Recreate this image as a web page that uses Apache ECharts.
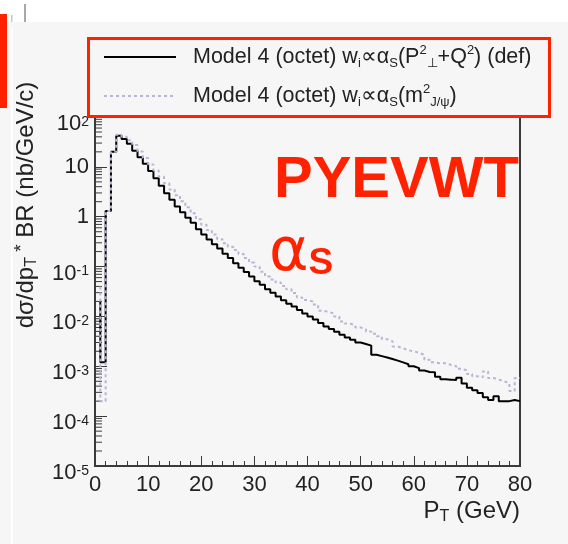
<!DOCTYPE html>
<html>
<head>
<meta charset="utf-8">
<script src="https://cdn.jsdelivr.net/npm/echarts@6/dist/echarts.min.js"></script>
<style>
html,body{margin:0;padding:0;background:#f6f6f6;}
#chart{width:568px;height:544px;}
</style>
</head>
<body>
<div id="chart"></div>
<script>
// ---------------- data ----------------
const xMin = 0;
const xMax = 80;
const xTickStep = 10;
const binWidth = 1; // GeV per histogram bin
const yMin = 1e-5;
const yMax = 1e2;
const yMinorMultipliers = [2, 3, 4, 5, 6, 7, 8, 9];

const seriesNames = [
  'Model 4 (octet) w_i∝α_S(P_⊥^2+Q^2) (def)',
  'Model 4 (octet) w_i∝α_S(m^2_J/ψ)'
];
const legendLabels = [
  '{t|Model 4 (octet) w}{sb|i}{t|∝α}{sb|S}{t|(P}{sp|2}{sb|⊥}{t|+Q}{sp|2}{t|) (def)}',
  '{t|Model 4 (octet) w}{sb|i}{t|∝α}{sb|S}{t|(m}{sp|2}{sb|J/ψ}{t|)}'
];

// value where the first edge line of each histogram starts
const defLead = 0.02;
const mjpsiLead = 0.04;

// Model 4 (octet) w ∝ αs(P⊥²+Q²) (def) — one value per 1 GeV bin, 0..80 GeV
const defValues = [
  null, 0.0012, 1.3, 20, 42, 36, 29, 21, 15.5, 11.5,
  8.3, 5.9, 4.2, 2.95, 2.2, 1.6, 1.23, 0.95, 0.76, 0.56,
  0.44, 0.35, 0.28, 0.23, 0.18, 0.148, 0.117, 0.095, 0.078, 0.063,
  0.051, 0.043, 0.035, 0.030, 0.025, 0.021, 0.018, 0.0158, 0.0135, 0.0115,
  0.010, 0.0087, 0.0074, 0.0063, 0.0056, 0.0049, 0.0043, 0.0038, 0.0034, 0.0030,
  0.0028, 0.0026, 0.0017, 0.0016, 0.0015, 0.0014, 0.0013, 0.0012, 0.0011, 0.0010,
  0.00092, 0.00082, 0.00077, 0.00076, 0.00062, 0.00055, 0.00054, 0.00053, 0.00059, 0.00045,
  0.00037, 0.00033, 0.00029, 0.00024, 0.00021, 0.00025, 0.00020, 0.00020, 0.00021, 0.00020
];

// Model 4 (octet) w ∝ αs(m²J/ψ)
const mjpsiValues = [
  null, 0.0002, 1.3, 20, 44, 40, 34, 27.5, 20.4, 15,
  11.2, 8.5, 6.3, 4.7, 3.5, 2.7, 2.04, 1.55, 1.17, 0.89,
  0.69, 0.54, 0.44, 0.355, 0.295, 0.25, 0.214, 0.178, 0.148, 0.12,
  0.10, 0.079, 0.063, 0.055, 0.048, 0.041, 0.035, 0.0295, 0.024, 0.0214,
  0.020, 0.0174, 0.013, 0.0123, 0.0115, 0.010, 0.0079, 0.0072, 0.0066, 0.0060,
  0.0055, 0.0050, 0.0045, 0.0040, 0.0035, 0.0032, 0.0025, 0.0023, 0.0021, 0.0020,
  0.00186, 0.0017, 0.00135, 0.0012, 0.00115, 0.00115, 0.00107, 0.0010, 0.00089, 0.00083,
  0.00070, 0.00063, 0.00060, 0.00079, 0.00058, 0.00054, 0.00050, 0.00046, 0.00032, 0.00058
];

// ---------------- helpers ----------------
function histSteps(lead, values) {
  const pts = [];
  const first = values.findIndex(v => v != null);
  pts.push([first * binWidth, lead]);
  values.forEach((v, i) => { if (v != null) pts.push([i * binWidth, v]); });
  pts.push([values.length * binWidth, values[values.length - 1]]);
  return pts;
}

const minorTickValues = [];
for (let e = Math.round(Math.log10(yMin)); e < Math.round(Math.log10(yMax)); e++) {
  yMinorMultipliers.forEach(m => minorTickValues.push([xMin, m * Math.pow(10, e)]));
}

const FONT = '"Liberation Sans", Arial, Helvetica, sans-serif';
const RED = '#ff2200';
const AXIS = '#3a3a3a';

const chart = echarts.init(document.getElementById('chart'), null, {renderer: 'canvas'});

const option = {
  animation: false,
  backgroundColor: '#f6f6f6',
  grid: {
    left: 95, right: 48, top: 117, bottom: 78,
    show: true, borderColor: AXIS, borderWidth: 2, backgroundColor: 'transparent'
  },
  xAxis: {
    type: 'value',
    min: xMin, max: xMax, interval: xTickStep,
    axisLine: {show: true, onZero: false, lineStyle: {color: AXIS, width: 2}},
    axisTick: {show: true, inside: true, length: 10, lineStyle: {color: AXIS, width: 1}},
    minorTick: {show: true, splitNumber: 5, length: 5, lineStyle: {color: AXIS, width: 1}},
    splitLine: {show: false},
    axisLabel: {fontSize: 22, color: '#222', fontFamily: FONT, margin: 8}
  },
  yAxis: {
    type: 'log',
    logBase: 10,
    min: yMin, max: yMax,
    splitNumber: 7,
    axisLine: {show: true, lineStyle: {color: AXIS, width: 2}},
    axisTick: {show: true, inside: true, length: 12, lineStyle: {color: AXIS, width: 1}},
    splitLine: {show: false},
    axisLabel: {
      margin: 6,
      color: '#222',
      fontFamily: FONT,
      formatter: function (v) {
        const e = Math.round(Math.log10(v));
        if (e === 1) return '{p|10}';
        if (e === 0) return '{p|1}';
        return '{m|10}{s|' + e + '}';
      },
      rich: {
        p: {fontSize: 22, lineHeight: 22, fontFamily: FONT, color: '#222'},
        m: {fontSize: 22, lineHeight: 22, padding: [14, 0, 0, 0], fontFamily: FONT, color: '#222'},
        s: {fontSize: 14, lineHeight: 14, padding: [9, 0, 0, 0], verticalAlign: 'top', fontFamily: FONT, color: '#222'}
      }
    }
  },
  legend: {
    show: true,
    orient: 'vertical',
    left: 103, top: 44,
    padding: 0,
    itemWidth: 72, itemHeight: 14,
    itemGap: 13,
    data: seriesNames,
    itemStyle: {opacity: 0},
    formatter: function (name) { return legendLabels[seriesNames.indexOf(name)]; },
    textStyle: {
      padding: [0, 0, 0, 12],
      rich: {
        t: {fontSize: 21.5, lineHeight: 26, color: '#222', fontFamily: FONT},
        sb: {fontSize: 13, lineHeight: 13, verticalAlign: 'bottom', color: '#222', fontFamily: FONT},
        sp: {fontSize: 13, lineHeight: 13, verticalAlign: 'top', color: '#222', fontFamily: FONT}
      }
    }
  },
  series: [
    {
      name: seriesNames[0],
      type: 'line',
      step: 'end',
      symbol: 'none',
      data: histSteps(defLead, defValues),
      lineStyle: {color: '#000', width: 2},
      itemStyle: {color: '#000'},
      z: 3
    },
    {
      name: seriesNames[1],
      type: 'line',
      step: 'end',
      symbol: 'none',
      data: histSteps(mjpsiLead, mjpsiValues),
      lineStyle: {color: '#b9b5d4', width: 2, type: [3, 3]},
      itemStyle: {color: '#b9b5d4'},
      z: 4
    },
    {
      name: 'yMinorTicks',
      type: 'custom',
      silent: true,
      data: minorTickValues,
      encode: {x: 0, y: 1},
      renderItem: function (params, api) {
        const p = api.coord([api.value(0), api.value(1)]);
        return {
          type: 'line',
          shape: {x1: p[0], y1: p[1], x2: p[0] + 7, y2: p[1]},
          style: {stroke: AXIS, lineWidth: 1}
        };
      },
      z: 2
    }
  ],
  graphic: [
    // page decorations
    {type: 'rect', shape: {x: 0, y: 0, width: 568, height: 22}, style: {fill: '#ffffff'}, z: 0, silent: true},
    {type: 'rect', shape: {x: 11, y: 28, width: 1.5, height: 516}, style: {fill: '#ffffff'}, z: 0, silent: true},
    {type: 'rect', shape: {x: 0, y: 14, width: 7, height: 94}, style: {fill: RED}, z: 10, silent: true},
    {type: 'rect', shape: {x: 24, y: 4, width: 2, height: 18}, style: {fill: '#a8a8a8'}, z: 10, silent: true},
    {type: 'rect', shape: {x: 11, y: 15, width: 1.5, height: 7}, style: {fill: '#c8c8c8'}, z: 10, silent: true},
    // legend frame
    {type: 'rect', shape: {x: 88.5, y: 38.5, width: 461, height: 78}, style: {fill: 'none', stroke: RED, lineWidth: 3}, z: 100, silent: true},
    // axis titles
    {
      type: 'text', x: 26, y: 205, rotation: Math.PI / 2, z: 50, silent: true,
      style: {
        text: '{t|dσ/dp}{sb|T}{sp| *}{t| BR (nb/GeV/c)}',
        align: 'center', verticalAlign: 'middle',
        rich: {
          t: {fontSize: 24, lineHeight: 28, fill: '#222', fontFamily: FONT},
          sb: {fontSize: 16, lineHeight: 16, verticalAlign: 'bottom', fill: '#222', fontFamily: FONT},
          sp: {fontSize: 19, lineHeight: 19, verticalAlign: 'top', fill: '#222', fontFamily: FONT}
        }
      }
    },
    {
      type: 'text', x: 520, y: 511, z: 50, silent: true,
      style: {
        text: '{t|P}{sb|T}{t| (GeV)}',
        align: 'right', verticalAlign: 'middle',
        rich: {
          t: {fontSize: 24, lineHeight: 28, fill: '#222', fontFamily: FONT},
          sb: {fontSize: 16, lineHeight: 16, verticalAlign: 'bottom', fill: '#222', fontFamily: FONT}
        }
      }
    },
    // red annotations
    {
      type: 'text', x: 274, y: 181, z: 50, silent: true,
      style: {text: 'PYEVWT', fontSize: 58, fontWeight: 'bold', fill: RED, fontFamily: FONT, verticalAlign: 'middle', align: 'left'}
    },
    {
      type: 'text', x: 269, y: 254, z: 50, silent: true,
      style: {
        text: '{a|α}{s|S}',
        align: 'left', verticalAlign: 'middle',
        rich: {
          a: {fontSize: 60, lineHeight: 56, fill: RED, fontFamily: '"DejaVu Sans", sans-serif'},
          s: {fontSize: 37, lineHeight: 32, verticalAlign: 'bottom', fontWeight: 'bold', fill: RED, fontFamily: FONT}
        }
      }
    }
  ]
};

chart.setOption(option);
</script>
</body>
</html>
